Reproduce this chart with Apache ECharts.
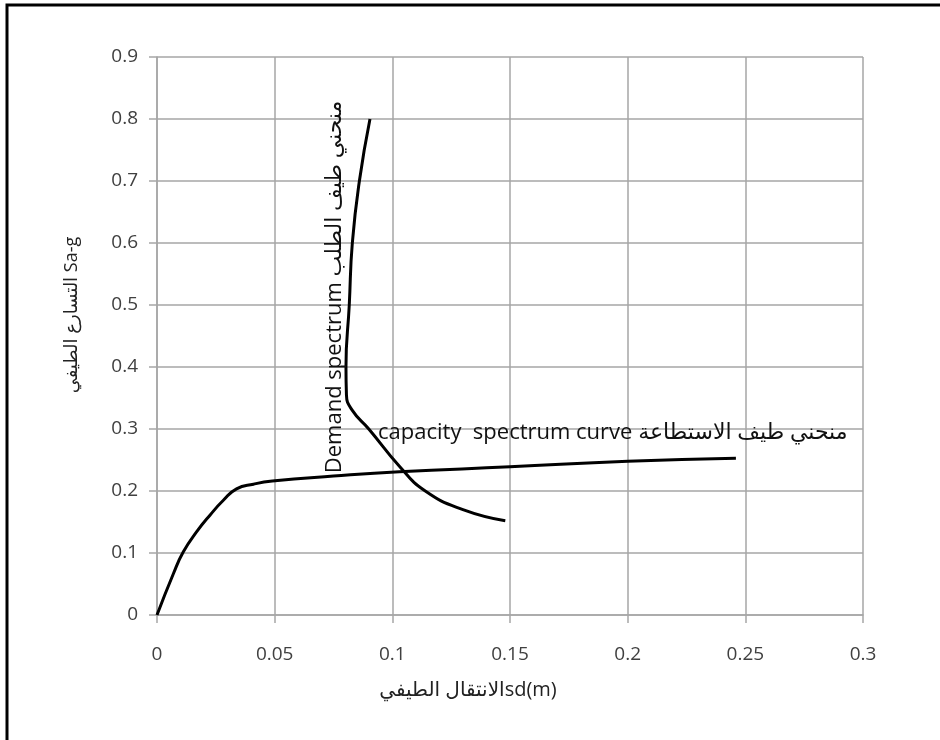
<!DOCTYPE html>
<html><head><meta charset="utf-8">
<script src="https://cdn.jsdelivr.net/npm/echarts@6/dist/echarts.min.js"></script>
<style>html,body{margin:0;padding:0;background:#fff}#c{width:940px;height:740px}</style>
</head><body><div id="c"></div>
<script>
const capacityX = [0, 0.007, 0.0112, 0.0168, 0.0225, 0.0282, 0.0338, 0.041, 0.049, 0.075, 0.103, 0.15, 0.2, 0.246];
const capacityY = [0, 0.067, 0.102, 0.134, 0.161, 0.185, 0.2035, 0.211, 0.216, 0.224, 0.231, 0.239, 0.248, 0.253];
const demandX = [0.0905, 0.086, 0.083, 0.0817, 0.0803, 0.0805, 0.083, 0.09, 0.103, 0.114, 0.13, 0.148];
const demandY = [0.8, 0.7, 0.6, 0.5, 0.4, 0.355, 0.33, 0.30, 0.24, 0.2, 0.17, 0.152];
const xTicks = ['0', '0.05', '0.1', '0.15', '0.2', '0.25', '0.3'];
const yTicks = ['0', '0.1', '0.2', '0.3', '0.4', '0.5', '0.6', '0.7', '0.8', '0.9'];
const demandLabel = 'Demand spectrum منحني طيف الطلب';
const capacityLabel = 'capacity  spectrum curve منحني طيف الاستطاعة';
const xTitle = 'الانتقال الطيفيsd(m)';
const yTitle = 'التسارع الطيفي Sa-g';

const font = '"Open Sans", "DejaVu Sans", sans-serif';
const chart = echarts.init(document.getElementById('c'), null, {renderer: 'canvas'});
const zip = (a, b) => a.map((v, i) => [v, b[i]]);
const gridColor = '#a6a6a6';
chart.setOption({
  backgroundColor: '#fff',
  animation: false,
  grid: {left: 157, right: 77, top: 57, bottom: 125},
  xAxis: {
    type: 'value', min: 0, max: 0.3, interval: 0.05,
    axisLine: {show: true, lineStyle: {color: gridColor, width: 1.5}},
    axisTick: {show: true, length: 8, lineStyle: {color: gridColor, width: 1.5}},
    splitLine: {show: true, lineStyle: {color: gridColor, width: 1.5}},
    axisLabel: {margin: 30, color: '#404040', fontSize: 19, fontFamily: font,
      formatter: (v) => xTicks[Math.round(v / 0.05)]}
  },
  yAxis: {
    type: 'value', min: 0, max: 0.9, interval: 0.1,
    axisLine: {show: true, lineStyle: {color: gridColor, width: 1.5}},
    axisTick: {show: true, length: 8, lineStyle: {color: gridColor, width: 1.5}},
    splitLine: {show: true, lineStyle: {color: gridColor, width: 1.5}},
    axisLabel: {margin: 19, color: '#404040', fontSize: 19, fontFamily: font,
      formatter: (v) => yTicks[Math.round(v / 0.1)]}
  },
  series: [
    {type: 'line', data: zip(capacityX, capacityY), smooth: 0.5, showSymbol: false,
      lineStyle: {color: '#000', width: 3}},
    {type: 'line', data: zip(demandX, demandY), smooth: 0.5, showSymbol: false,
      lineStyle: {color: '#000', width: 3}}
  ],
  graphic: [
    {type: 'rect', shape: {x: 7, y: 5, width: 1000, height: 1000}, style: {fill: 'none', stroke: '#000', lineWidth: 3}, z: 100},
    {type: 'text', x: 335, y: 287, rotation: Math.PI / 2, z: 50,
      style: {text: demandLabel, fill: '#111', font: '22px ' + font, align: 'center', verticalAlign: 'middle'}},
    {type: 'text', x: 378, y: 433, z: 50,
      style: {text: capacityLabel, fill: '#111', font: '22px ' + font, align: 'left', verticalAlign: 'middle'}},
    {type: 'text', x: 468, y: 690, z: 50,
      style: {text: xTitle, fill: '#222', font: '20px ' + font, align: 'center', verticalAlign: 'middle'}},
    {type: 'text', x: 72, y: 315, rotation: Math.PI / 2, z: 50,
      style: {text: yTitle, fill: '#222', font: '18px ' + font, align: 'center', verticalAlign: 'middle'}}
  ]
});
</script></body></html>
